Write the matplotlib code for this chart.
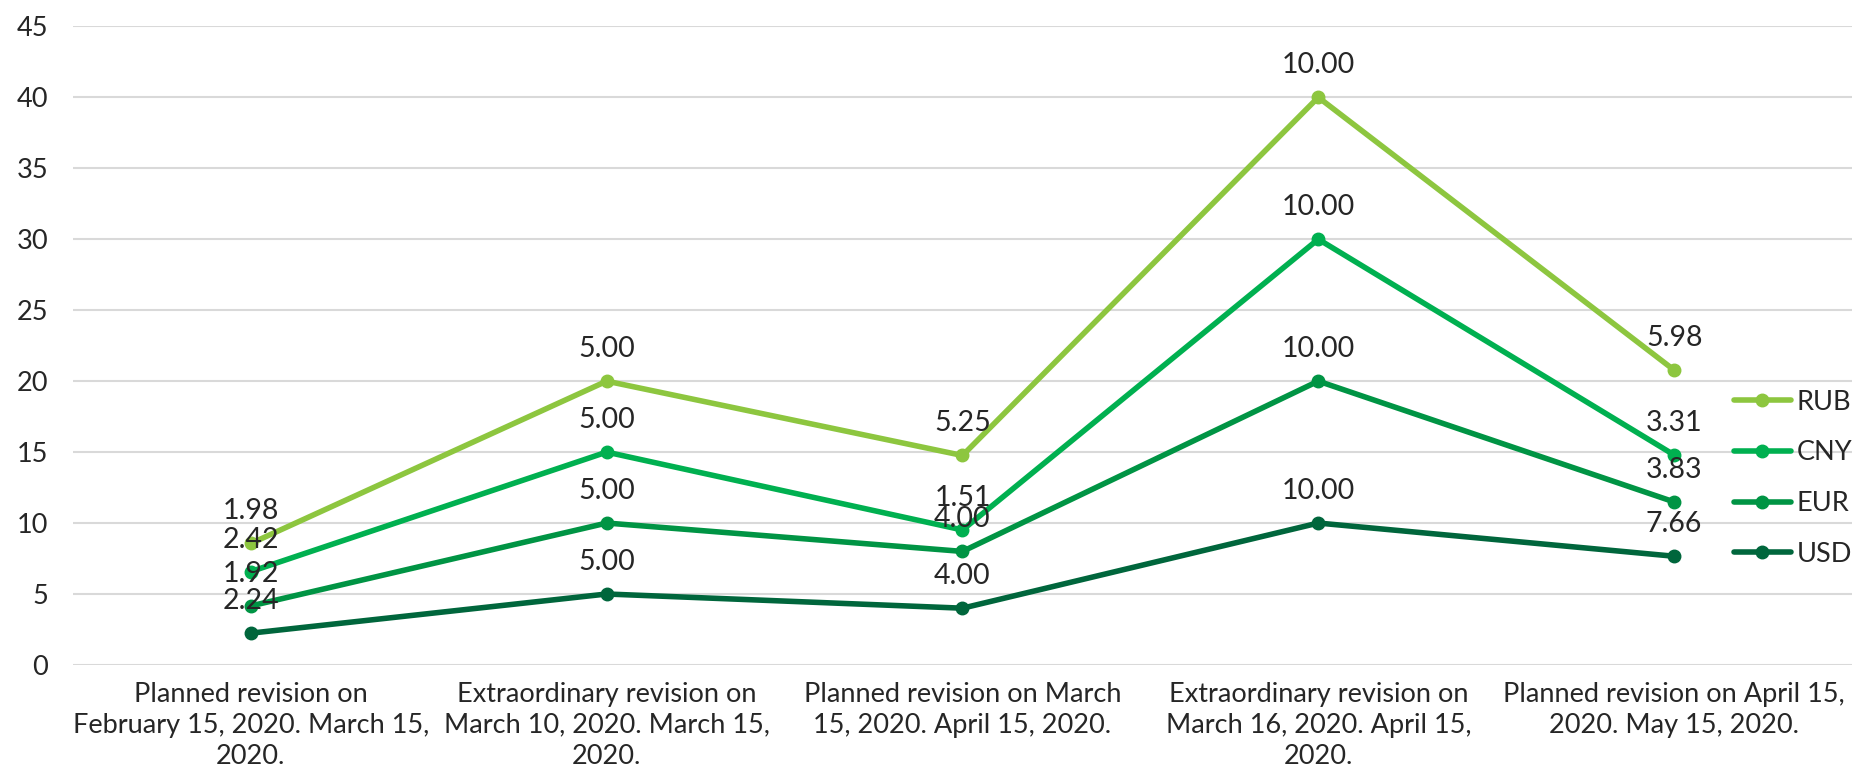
import matplotlib.pyplot as plt
import numpy as np

categories = [
    "Planned revision on\nFebruary 15, 2020. March 15,\n2020.",
    "Extraordinary revision on\nMarch 10, 2020. March 15,\n2020.",
    "Planned revision on March\n15, 2020. April 15, 2020.",
    "Extraordinary revision on\nMarch 16, 2020. April 15,\n2020.",
    "Planned revision on April 15,\n2020. May 15, 2020.",
]
usd = [2.24, 5.00, 4.00, 10.00, 7.66]
eur = [1.92, 5.00, 4.00, 10.00, 3.83]
cny = [2.42, 5.00, 1.51, 10.00, 3.31]
rub = [1.98, 5.00, 5.25, 10.00, 5.98]

series_names = ["USD", "EUR", "CNY", "RUB"]
series_vals = [usd, eur, cny, rub]
colors = ["#00663C", "#009444", "#00B050", "#8DC63F"]

plt.rcParams['font.family'] = ['Lato', 'DejaVu Sans']
text_color = "#262626"
fs = 19.5

fig = plt.figure(figsize=(18.52, 7.75), dpi=100)
ax = fig.add_axes([0.0394, 0.142, 0.9606, 0.824])

x = np.arange(len(categories))
cum = np.zeros(len(categories))
handles = []
for name, vals, col in zip(series_names, series_vals, colors):
    cum = cum + np.array(vals)
    h, = ax.plot(x, cum, color=col, lw=4, marker='o', markersize=9,
                 solid_capstyle='round', label=name, zorder=3)
    handles.append(h)
    for xi, yi, v in zip(x, cum, vals):
        ax.annotate(f"{v:.2f}", (xi, yi), xytext=(0, 32), textcoords='offset pixels',
                    ha='center', va='center', color=text_color, fontsize=20.5, zorder=4)

ax.set_xlim(-0.5, 4.5)
ax.set_ylim(0, 45)
ax.set_yticks(range(0, 46, 5))
ax.set_xticks(x)
ax.set_xticklabels(categories, color=text_color, linespacing=1.3, fontsize=fs)
ax.tick_params(axis='both', length=0, labelcolor=text_color, labelsize=fs)
ax.tick_params(axis='y', pad=18)
ax.tick_params(axis='x', pad=12)
ax.grid(axis='y', color='#D9D9D9', lw=1.5)
ax.set_axisbelow(True)
for s in ax.spines.values():
    s.set_visible(False)

leg = fig.legend(handles[::-1], series_names[::-1], loc='center left',
                 bbox_to_anchor=(0.929, 0.383), frameon=False, fontsize=fs,
                 handlelength=2.1, handletextpad=0.2, labelspacing=0.95,
                 borderpad=0)
for t in leg.get_texts():
    t.set_color(text_color)

fig.savefig("out.png", dpi=100)
